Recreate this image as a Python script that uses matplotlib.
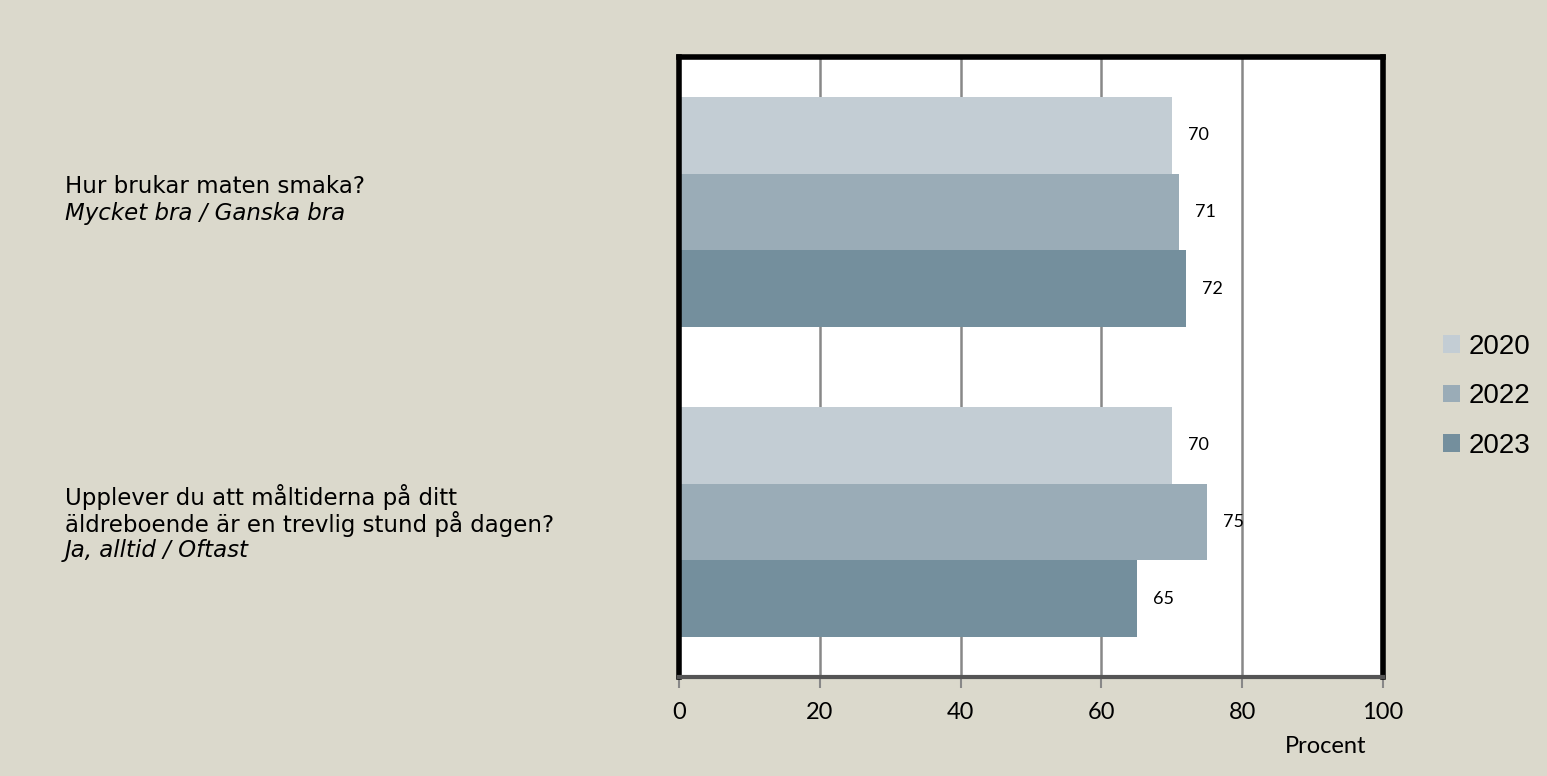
import numpy as np
import matplotlib.pyplot as plt

# data
questions = ["Hur brukar maten smaka?", "Upplever du att måltiderna på ditt\näldreboende är en trevlig stund på dagen?"]
answers = ["Mycket bra / Ganska bra", "Ja, alltid / Oftast"]
years = ["2020", "2022", "2023"]
values_2020 = [70, 70]
values_2022 = [71, 75]
values_2023 = [72, 65]
colors = ["#c3cdd4", "#9aacb7", "#748f9d"]

plt.rcParams['font.family'] = ['Lato', 'DejaVu Sans']

fig = plt.figure(figsize=(15.47, 7.76), dpi=100)
fig.patch.set_facecolor("#dbd9cc")
ax = fig.add_axes([0.439, 0.1276, 0.455, 0.799])
ax.set_facecolor("white")

series = [values_2020, values_2022, values_2023]
h = 0.248
y = np.arange(len(questions))
for i, (vals, yr, c) in enumerate(zip(series, years, colors)):
    pos = y + (i - 1) * h
    ax.barh(pos, vals, height=h, color=c, label=yr, zorder=2)
    for p, v in zip(pos, vals):
        ax.text(v + 2.3, p, str(v), va="center", ha="left", fontsize=13, zorder=3)

ax.set_xlim(0, 100)
ax.set_ylim(1.5, -0.5)
ax.set_xticks(range(0, 101, 20))
ax.tick_params(axis="x", labelsize=17, length=8, width=1.5, color="#888888", pad=10)
ax.set_yticks([])
ax.grid(axis="x", color="#888888", linewidth=1.8, zorder=1)
for s in ["left", "top", "right"]:
    ax.spines[s].set_linewidth(4)
    ax.spines[s].set_color("black")
ax.spines["bottom"].set_linewidth(3)
ax.spines["bottom"].set_color("#555555")

ax.set_xlabel("Procent", fontsize=17, loc="right")
ax.xaxis.set_label_coords(0.977, -0.095)

# category labels at the left, first line a little above the group centre
H = fig.bbox.height
for q, a, yy in zip(questions, answers, y):
    lines = q.split("\n") + [a]
    ycen = ax.transData.transform((0, yy))[1]
    for k, line in enumerate(lines):
        ypix = ycen + 25 - 27 * k
        fig.text(65 / 1547, ypix / H, line, fontsize=16.5, va="center", ha="left",
                 family="DejaVu Sans", style="italic" if k == len(lines) - 1 else "normal")

ax.legend(loc="center left", bbox_to_anchor=(1.05, 0.453), frameon=False,
          prop={"family": "Liberation Sans", "size": 20}, handlelength=0.6, handleheight=0.6,
          handletextpad=0.3, labelspacing=0.85)

fig.savefig("out.png", dpi=100, facecolor=fig.get_facecolor())
